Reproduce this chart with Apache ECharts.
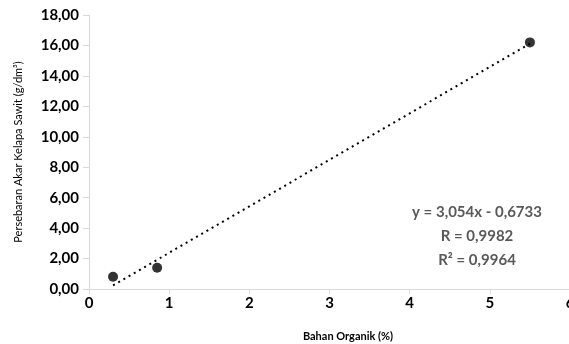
<!DOCTYPE html>
<html>
<head>
<meta charset="utf-8">
<script src="https://cdn.jsdelivr.net/npm/echarts@6/dist/echarts.min.js"></script>
<style>
  html, body { margin: 0; padding: 0; background: #fff; }
  #chart { width: 569px; height: 344px; }
</style>
</head>
<body>
<div id="chart"></div>
<script>
// measured points (Bahan Organik %, Persebaran Akar g/dm3)
var bahanOrganik = [0.3, 0.85, 5.5];
var persebaranAkar = [0.8, 1.4, 16.2];

// linear trendline endpoints
var trendX = [0.3, 5.5];
var trendY = [0.24, 16.12];

var eqLines = ['y = 3,054x - 0,6733', 'R = 0,9982', 'R² = 0,9964'];

var points = bahanOrganik.map(function (x, i) { return [x, persebaranAkar[i]]; });
var trend = trendX.map(function (x, i) { return [x, trendY[i]]; });

var fmt = function (v) { return v.toFixed(2).replace('.', ','); };
var labelFont = { fontFamily: 'Lato', fontWeight: 'bold', fontSize: 15, color: '#000' };

var myChart = echarts.init(document.getElementById('chart'));
myChart.setOption({
    animation: false,
    grid: { left: 89, top: 15, width: 481, height: 274, outerBoundsMode: 'none', containLabel: false },
    xAxis: {
        type: 'value',
        min: 0, max: 6, interval: 1,
        splitLine: { show: false },
        axisLine: { show: true, lineStyle: { color: '#d9d9d9', width: 1 } },
        axisTick: { show: true, length: 5, lineStyle: { color: '#d9d9d9' } },
        axisLabel: Object.assign({ margin: 7 }, labelFont),
        name: 'Bahan Organik (%)',
        nameLocation: 'middle',
        nameGap: 42,
        nameTextStyle: { fontFamily: 'Lato', fontWeight: 'bold', fontSize: 11, color: '#000', padding: [0, 0, 0, 37] }
    },
    yAxis: {
        type: 'value',
        min: 0, max: 18, interval: 2,
        splitLine: { show: false },
        axisLine: { show: true, lineStyle: { color: '#d9d9d9', width: 1 } },
        axisTick: { show: true, length: 6, lineStyle: { color: '#d9d9d9' } },
        axisLabel: Object.assign({ margin: 10, formatter: fmt }, labelFont),
        name: 'Persebaran Akar Kelapa Sawit (g/dm³)',
        nameLocation: 'middle',
        nameGap: 65,
        nameTextStyle: { fontFamily: 'Lato', fontSize: 11, color: '#000' }
    },
    series: [
        {
            type: 'line',
            data: trend,
            symbol: 'none',
            lineStyle: { color: '#000', width: 2, type: [2, 4] },
            z: 1
        },
        {
            type: 'scatter',
            data: points,
            symbolSize: 10,
            itemStyle: { color: '#000' },
            z: 2
        }
    ],
    graphic: eqLines.map(function (t, i) {
        return {
            type: 'text',
            x: 477, y: 212 + i * 24,
            style: {
                text: t,
                textAlign: 'center',
                textVerticalAlign: 'middle',
                fontFamily: 'Lato', fontWeight: 'bold', fontSize: 15, fill: '#595959'
            }
        };
    })
});
</script>
</body>
</html>
